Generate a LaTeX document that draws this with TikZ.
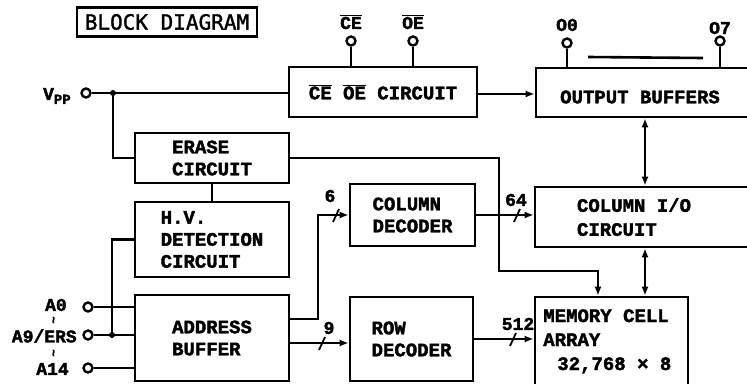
\documentclass[tikz,border=0pt]{standalone}
\usepackage{fontspec}
\setmainfont{Liberation Mono}[BoldFeatures={FakeBold=2}]
\newfontfamily\titlefont{DejaVu Sans Mono}[FakeBold=1.5]
\usetikzlibrary{arrows.meta,calc}
\newcommand\ovl[1]{\ensuremath{\overline{\hbox{#1}}}}
\begin{document}
\begin{tikzpicture}[x=1pt,y=-1pt,
  line width=2.6pt,
  every node/.style={font=\fontsize{19}{22}\selectfont\bfseries},
  blk/.style={draw,rectangle,inner sep=0pt,align=left},
  pinc/.style={draw,circle,fill=white,minimum size=9pt,inner sep=0pt,line width=2.4pt},
  lbl/.style={inner sep=0pt,font=\fontsize{18}{20}\selectfont\bfseries},
  arr/.style={-{Latex[length=9pt,width=7pt]}},
  darr/.style={{Latex[length=9pt,width=7pt]}-{Latex[length=9pt,width=7pt]}},
  tick/.style={line width=1.8pt},
  jdot/.style={fill,circle,inner sep=0pt,minimum size=6pt}
]
\clip (0,0) rectangle (747,383);
\fill[white] (0,0) rectangle (747,383);

% title
\node[draw,line width=2.6pt,minimum width=180pt,minimum height=29pt,inner sep=0pt,
      font=\titlefont\fontsize{21}{22}\selectfont] (title) at (167,22) {BLOCK DIAGRAM};

% blocks
\node[blk,minimum width=188pt,minimum height=50pt] (ceoe) at (383,92) {\ovl{CE} \ovl{OE} CIRCUIT};
\node[blk,minimum width=264pt,minimum height=49pt] (ob) at (668,92.5) {};
\node[lbl,font=\fontsize{19}{22}\selectfont\bfseries] (obt) at (640,97) {OUTPUT BUFFERS};
\node[blk,minimum width=154pt,minimum height=50pt] (erase) at (212,158) {ERASE\\CIRCUIT};
\node[blk,minimum width=154pt,minimum height=75pt] (hv) at (212,239.5) {H.V.\\DETECTION\\CIRCUIT};
\node[blk,minimum width=154pt,minimum height=86pt] (abuf) at (212,338) {ADDRESS\\BUFFER};
\node[blk,minimum width=125pt,minimum height=62pt] (coldec) at (412.5,215) {COLUMN\\DECODER};
\node[blk,minimum width=123pt,minimum height=84pt] (rowdec) at (411.5,339) {ROW\\DECODER};
\node[blk,minimum width=265pt,minimum height=60pt] (cio) at (667.5,217) {};
\node[lbl,font=\fontsize{19}{24}\selectfont\bfseries,align=left] (ciot) at (634,217) {COLUMN I/O\\CIRCUIT};
\node[blk,minimum width=153pt,minimum height=123pt] (mem) at (611.5,358.5) {};
\node[lbl,font=\fontsize{19}{24}\selectfont\bfseries,align=left,anchor=north west] (memt) at (542,308) {MEMORY CELL\\ARRAY\\\hspace*{14pt}32,768 × 8};

% pins
\node[pinc] (ce) at (351,41) {};
\node[pinc] (oe) at (413,41) {};
\node[pinc] (o0) at (567,43) {};
\node[pinc] (o7) at (720,41) {};
\node[lbl] (cel) at (351,22) {\ovl{CE}};
\node[lbl] (oel) at (413,22) {\ovl{OE}};
\node[lbl] (o0l) at (567,25) {O0};
\node[lbl] (o7l) at (720,28) {O7};
\draw (ce) -- (ce |- ceoe.north);
\draw (oe) -- (oe |- ceoe.north);
\draw (o0) -- (o0 |- ob.north);
\draw (o7) -- (o7 |- ob.north);
\coordinate (bl) at (588,57);
\coordinate (br) at (703,58);
\draw (bl) -- (br);

\node[pinc] (vpp) at (86,93) {};
\node[lbl,anchor=east] (vppl) at (72,96) {V\raisebox{-4pt}{\fontsize{14}{14}\selectfont PP}};
\node[pinc] (a0) at (88,307) {};
\node[pinc] (a9) at (88,335) {};
\node[pinc] (a14) at (88,368) {};
\node[lbl,anchor=east] (a0l) at (68,305) {A0};
\node[lbl,anchor=east] (a9l) at (78,336) {A9/ERS};
\node[lbl,anchor=east] (a14l) at (70,369) {A14};
\node[lbl,rotate=90,font=\fontsize{12}{12}\selectfont\bfseries] (s1) at (55,320) {\char`\~};
\node[lbl,rotate=90,font=\fontsize{12}{12}\selectfont\bfseries] (s2) at (55,353) {\char`\~};

% Vpp net
\coordinate (j1) at (113,93);
\draw (vpp) -- (vpp -| ceoe.west);
\node[jdot] (jd1) at (j1) {};
\draw (j1) |- (erase.west);

% ceoe -> output buffers
\draw[arr] (ceoe.east |- 0,94) -- (ob.west |- 0,94);

% erase -> memory
\coordinate (e1) at (499,158);
\coordinate (e2) at (499,271);
\coordinate (e3) at (598,271);
\draw[arr] (erase.east) -- (e1) -- (e2) -- (e3) -- (e3 |- mem.north);

% erase -> hv
\draw (erase.south) -- (hv.north);

% hv -> A9
\coordinate (h1) at (112,239.5);
\coordinate (h2) at (112,335);
\draw (hv.west) -- (h1) -- (h2);
\node[jdot] (jd2) at (h2) {};

% address inputs
\draw (a0) -- (a0 -| abuf.west);
\draw (a9) -- (a9 -| abuf.west);
\draw (a14) -- (a14 -| abuf.west);

% address buffer -> column decoder
\coordinate (c1) at (289,319);
\coordinate (c2) at (318,319);
\coordinate (c3) at (318,215);
\draw[arr] (c1) -- (c2) -- (c3) -- (coldec.west);
\coordinate (t6) at (336,215);
\draw[tick] ($(t6)+(-3,7)$) -- ($(t6)+(3,-6)$);
\node[lbl] (l6) at (330,196) {6};

% address buffer -> row decoder
\coordinate (r1) at (289,343);
\draw[arr] (r1) -- (r1 -| rowdec.west);
\coordinate (t9) at (322,343);
\draw[tick] ($(t9)+(-3,7)$) -- ($(t9)+(3,-6)$);
\node[lbl] (l9) at (329,328) {9};

% column decoder -> column I/O
\draw[arr] (coldec.east) -- (coldec.east -| cio.west);
\coordinate (t64) at (517,215);
\draw[tick] ($(t64)+(-3,7)$) -- ($(t64)+(3,-6)$);
\node[lbl] (l64) at (516,200) {64};

% row decoder -> memory
\draw[arr] (rowdec.east) -- (rowdec.east -| mem.west);
\coordinate (t512) at (513,339);
\draw[tick] ($(t512)+(-3,7)$) -- ($(t512)+(3,-6)$);
\node[lbl] (l512) at (518,324) {512};

% data bus
\coordinate (bus) at (645,0);
\draw[darr] (bus |- ob.south) -- (bus |- cio.north);
\draw[darr] (bus |- cio.south) -- (bus |- mem.north);
\end{tikzpicture}
\end{document}
